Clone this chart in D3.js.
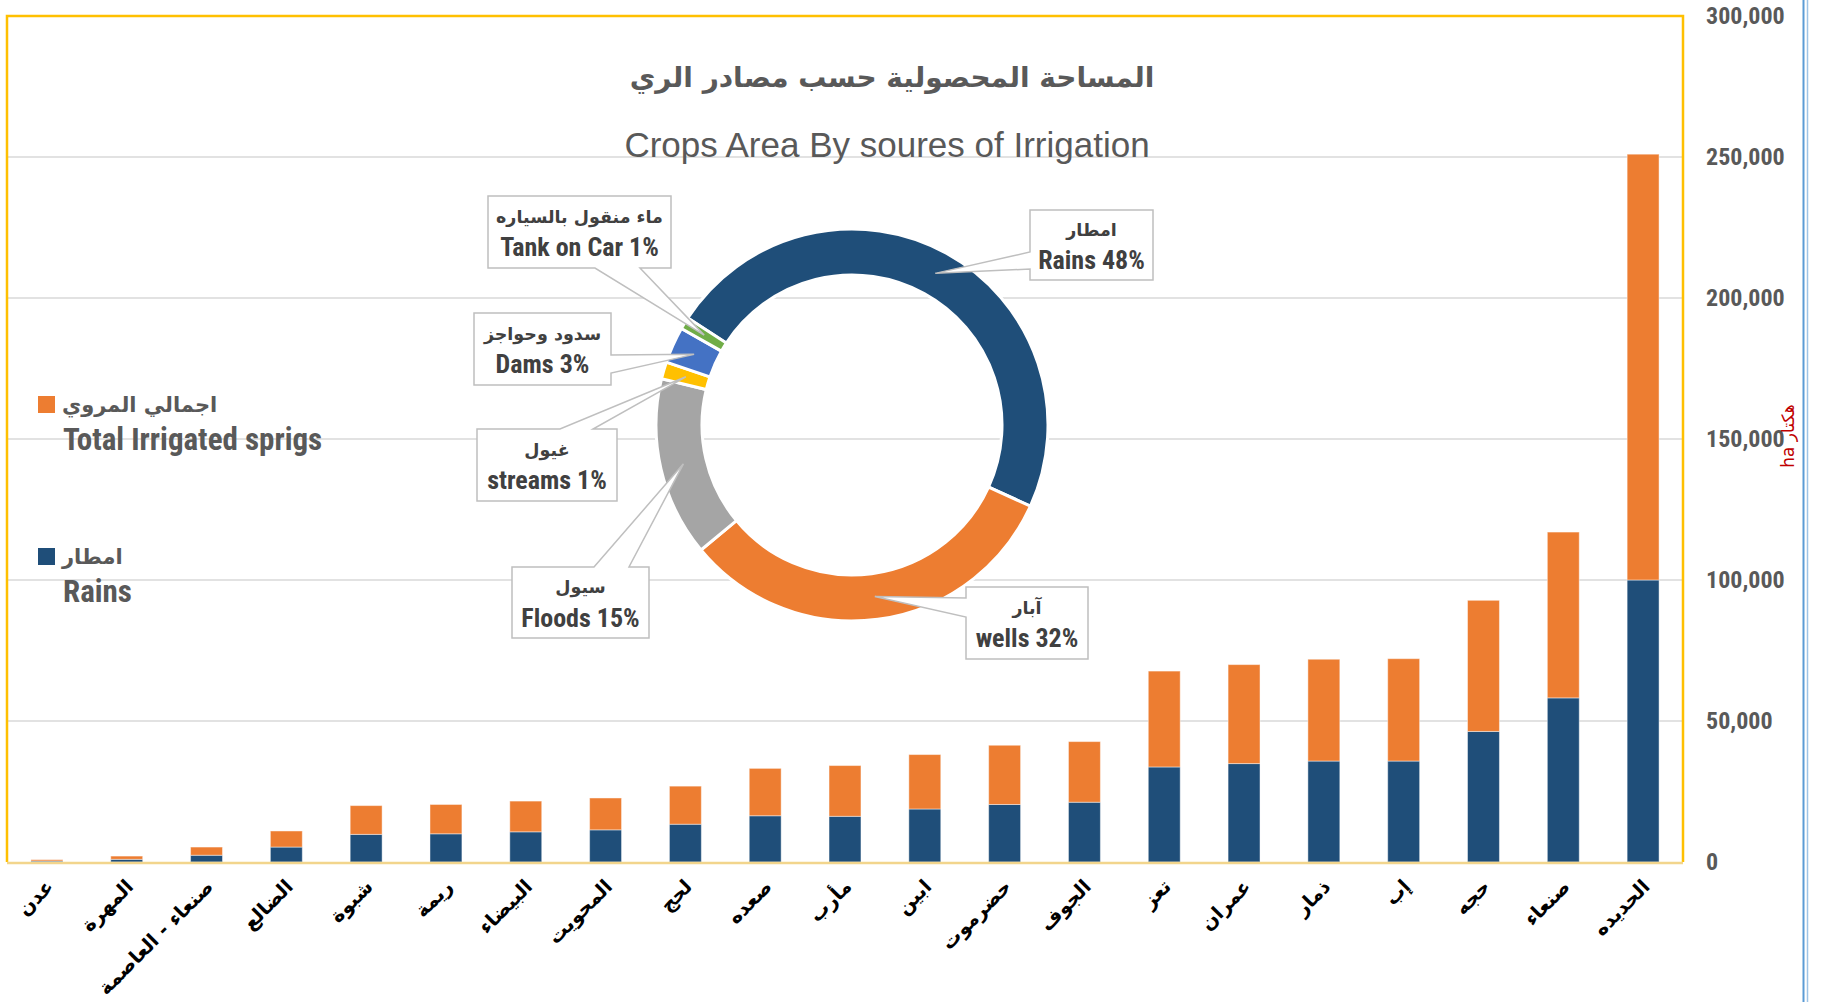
<!DOCTYPE html>
<html>
<head>
<meta charset="utf-8">
<script src="https://cdn.jsdelivr.net/npm/d3@7/dist/d3.min.js"></script>
<style>
body{margin:0;background:#fff;}
</style>
</head>
<body>
<svg id="chart" width="1821" height="1002"></svg>
<script>
// governorates, smallest to largest
var governorates = ['عدن','المهرة','صنعاء - العاصمة','الضالع','شبوة','ريمة','البيضاء','المحويت','لحج','صعده',
	'مأرب','ابين','حضرموت','الجوف','تعز','عمران','ذمار','إب','حجه','صنعاء','الحديده'];
var rains = [360, 950, 2400, 5300, 9800, 10000, 10700, 11400, 13400, 16400,
	16200, 18800, 20400, 21200, 33700, 34900, 35800, 35800, 46300, 58200, 100000];
var irrigated = [470, 1150, 2900, 5700, 10200, 10400, 10900, 11300, 13500, 16800,
	18000, 19300, 21000, 21500, 34000, 35100, 36100, 36300, 46500, 58800, 151000];
var yTicks = [0, 50000, 100000, 150000, 200000, 250000, 300000];

// irrigation sources (donut)
var sourceAr = ['امطار','آبار','سيول','غيول','سدود وحواجز','ماء منقول بالسياره'];
var sourceEn = ['Rains','wells','Floods','streams','Dams','Tank on Car'];
var sourceShare = [47.6, 32.2, 14.8, 1.4, 3.0, 1.0];

var seriesColors = ['#1f4e79','#ed7d31'];
var sourceColors = ['#1f4e79','#ed7d31','#a5a5a5','#ffc000','#4472c4','#70ad47'];

var narrow = "'Roboto Condensed','Liberation Sans Narrow',sans-serif";
var sans = "'Liberation Sans',Arial,sans-serif";
var arabic = "'DejaVu Sans',sans-serif";

var svg = d3.select('#chart');
var plotLeft = 7, plotRight = 1683, plotTop = 16, plotBottom = 862;

var x = d3.scaleBand().domain(governorates).range([plotLeft, plotRight]).paddingInner(0.6).paddingOuter(0.3);
var y = d3.scaleLinear().domain([0, 300000]).range([plotBottom, plotTop]);

// gridlines
svg.append('g').selectAll('line').data(yTicks.slice(1, -1)).enter().append('line')
	.attr('x1', plotLeft).attr('x2', plotRight)
	.attr('y1', function(d){ return y(d); }).attr('y2', function(d){ return y(d); })
	.style('stroke', '#d9d9d9').style('stroke-width', 1.5);

// stacked bars
var rows = governorates.map(function(g, i){ return {name: g, rains: rains[i], irrigated: irrigated[i]}; });
var stack = d3.stack().keys(['rains','irrigated'])(rows);

svg.append('g').selectAll('g').data(stack).enter().append('g')
	.style('fill', function(d, i){ return seriesColors[i]; })
	.selectAll('rect').data(function(d){ return d; }).enter().append('rect')
	.attr('x', function(d){ return x(d.data.name); })
	.attr('width', x.bandwidth())
	.attr('y', function(d){ return y(d[1]); })
	.attr('height', function(d){ return y(d[0]) - y(d[1]); })
	.style('stroke', '#ffffff').style('stroke-opacity', 0.45).style('stroke-width', 1);

// plot frame
svg.append('path')
	.attr('d', 'M' + plotLeft + ',' + plotBottom + 'V' + plotTop + 'H' + plotRight + 'V' + plotBottom)
	.style('fill', 'none').style('stroke', '#ffc000').style('stroke-width', 2.5);
svg.append('line').attr('x1', plotLeft).attr('x2', plotRight).attr('y1', plotBottom + 1).attr('y2', plotBottom + 1)
	.style('stroke', '#f2d58c').style('stroke-width', 2.5);

// y axis on the right
var yAxis = svg.append('g').attr('transform', 'translate(' + (plotRight + 16) + ',0)')
	.call(d3.axisRight(y).tickValues(yTicks).tickFormat(d3.format(',')).tickSize(0).tickPadding(7));
yAxis.select('.domain').remove();
yAxis.selectAll('text')
	.style('font-family', narrow).style('font-weight', 'bold').style('font-size', '24px').style('fill', '#595959');

svg.append('text')
	.attr('transform', 'translate(1794,436) rotate(-90)')
	.attr('text-anchor', 'middle')
	.style('font-family', arabic).style('font-size', '17px').style('fill', '#c00000')
	.text('ha هكتار');

// category labels
svg.append('g').selectAll('text').data(governorates).enter().append('text')
	.attr('transform', function(d){ return 'translate(' + (x(d) + x.bandwidth() / 2 + 3) + ',883) rotate(-45)'; })
	.attr('text-anchor', 'end')
	.attr('dy', '0.35em')
	.style('font-family', arabic).style('font-weight', 'bold').style('font-size', '19.5px').style('fill', '#000')
	.text(function(d){ return d; });

// legend
var legend = [
	{ar: 'اجمالي المروي', en: 'Total Irrigated sprigs', color: seriesColors[1], y: 404},
	{ar: 'امطار', en: 'Rains', color: seriesColors[0], y: 556}
];
var lg = svg.append('g').selectAll('g').data(legend).enter().append('g');
lg.append('rect').attr('x', 38).attr('y', function(d){ return d.y - 8; })
	.attr('width', 17).attr('height', 17).style('fill', function(d){ return d.color; });
lg.append('text').attr('x', 62).attr('y', function(d){ return d.y + 8; })
	.style('font-family', arabic).style('font-weight', 'bold').style('font-size', '21px').style('fill', '#595959')
	.text(function(d){ return d.ar; });
lg.append('text').attr('x', 63).attr('y', function(d){ return d.y + 46; })
	.style('font-family', narrow).style('font-weight', 'bold').style('font-size', '31px').style('fill', '#595959')
	.text(function(d){ return d.en; });

// titles
svg.append('text').attr('x', 892).attr('y', 87).attr('text-anchor', 'middle')
	.style('font-family', arabic).style('font-weight', 'bold').style('font-size', '28px').style('fill', '#595959')
	.text('المساحة المحصولية حسب مصادر الري');
svg.append('text').attr('x', 887).attr('y', 157).attr('text-anchor', 'middle')
	.style('font-family', sans).style('font-size', '35px').style('fill', '#595959')
	.text('Crops Area By soures of Irrigation');

// donut
var cx = 852, cy = 425;
var rad = Math.PI / 180;
var pie = d3.pie().sort(null).startAngle(-56.9 * rad).endAngle(303.1 * rad);
var arcs = pie(sourceShare);
var arc = d3.arc().innerRadius(150).outerRadius(196);
var donut = svg.append('g').attr('transform', 'translate(' + cx + ',' + cy + ')');
donut.selectAll('path').data(arcs).enter().append('path')
	.attr('d', arc)
	.style('fill', function(d, i){ return sourceColors[i]; })
	.style('stroke', '#fff').style('stroke-width', 3);

// data label callouts: box and which side the wedge leaves from
var boxes = [
	{b: [1030, 210, 1153, 280], side: 'left', p: 252, q: 269},
	{b: [966, 587, 1088, 659], side: 'left', p: 598, q: 617},
	{b: [512, 567, 649, 638], side: 'top', p: 594, q: 629},
	{b: [477, 429, 617, 501], side: 'top', p: 560, q: 593},
	{b: [474, 313, 611, 385], side: 'right', p: 355, q: 373},
	{b: [488, 196, 671, 268], side: 'bottom', p: 595, q: 640}
];

function calloutPath(box, tip){
	var x0 = box.b[0], y0 = box.b[1], x1 = box.b[2], y1 = box.b[3];
	var t = tip[0] + ',' + tip[1];
	var s = 'M' + x0 + ',' + y0;
	if(box.side == 'top') s += 'L' + box.p + ',' + y0 + 'L' + t + 'L' + box.q + ',' + y0;
	s += 'L' + x1 + ',' + y0;
	if(box.side == 'right') s += 'L' + x1 + ',' + box.p + 'L' + t + 'L' + x1 + ',' + box.q;
	s += 'L' + x1 + ',' + y1;
	if(box.side == 'bottom') s += 'L' + box.q + ',' + y1 + 'L' + t + 'L' + box.p + ',' + y1;
	s += 'L' + x0 + ',' + y1;
	if(box.side == 'left') s += 'L' + x0 + ',' + box.q + 'L' + t + 'L' + x0 + ',' + box.p;
	return s + 'Z';
}

var labels = svg.append('g');
arcs.forEach(function(a, i){
	var c = arc.centroid(a);
	var tip = [cx + c[0], cy + c[1]];
	var box = boxes[i];
	var g = labels.append('g');
	g.append('path').attr('d', calloutPath(box, tip))
		.style('fill', '#fff').style('stroke', '#bfbfbf').style('stroke-width', 1.5);
	var mx = (box.b[0] + box.b[2]) / 2;
	var h = box.b[3] - box.b[1];
	g.append('text').attr('x', mx).attr('y', box.b[1] + h * 0.37).attr('text-anchor', 'middle')
		.style('font-family', arabic).style('font-weight', 'bold').style('font-size', '17.5px').style('fill', '#404040')
		.text(sourceAr[i]);
	g.append('text').attr('x', mx).attr('y', box.b[1] + h * 0.84).attr('text-anchor', 'middle')
		.style('font-family', narrow).style('font-weight', 'bold').style('font-size', '26px').style('fill', '#404040')
		.text(sourceEn[i] + ' ' + Math.round(sourceShare[i]) + '%');
});

// selection border on the right
svg.append('line').attr('x1', 1803.5).attr('x2', 1803.5).attr('y1', 0).attr('y2', 1002)
	.style('stroke', '#5b9bd5').style('stroke-width', 2);
svg.append('line').attr('x1', 1807.5).attr('x2', 1807.5).attr('y1', 0).attr('y2', 1002)
	.style('stroke', '#9dc3e6').style('stroke-width', 1.5);
</script>
</body>
</html>
